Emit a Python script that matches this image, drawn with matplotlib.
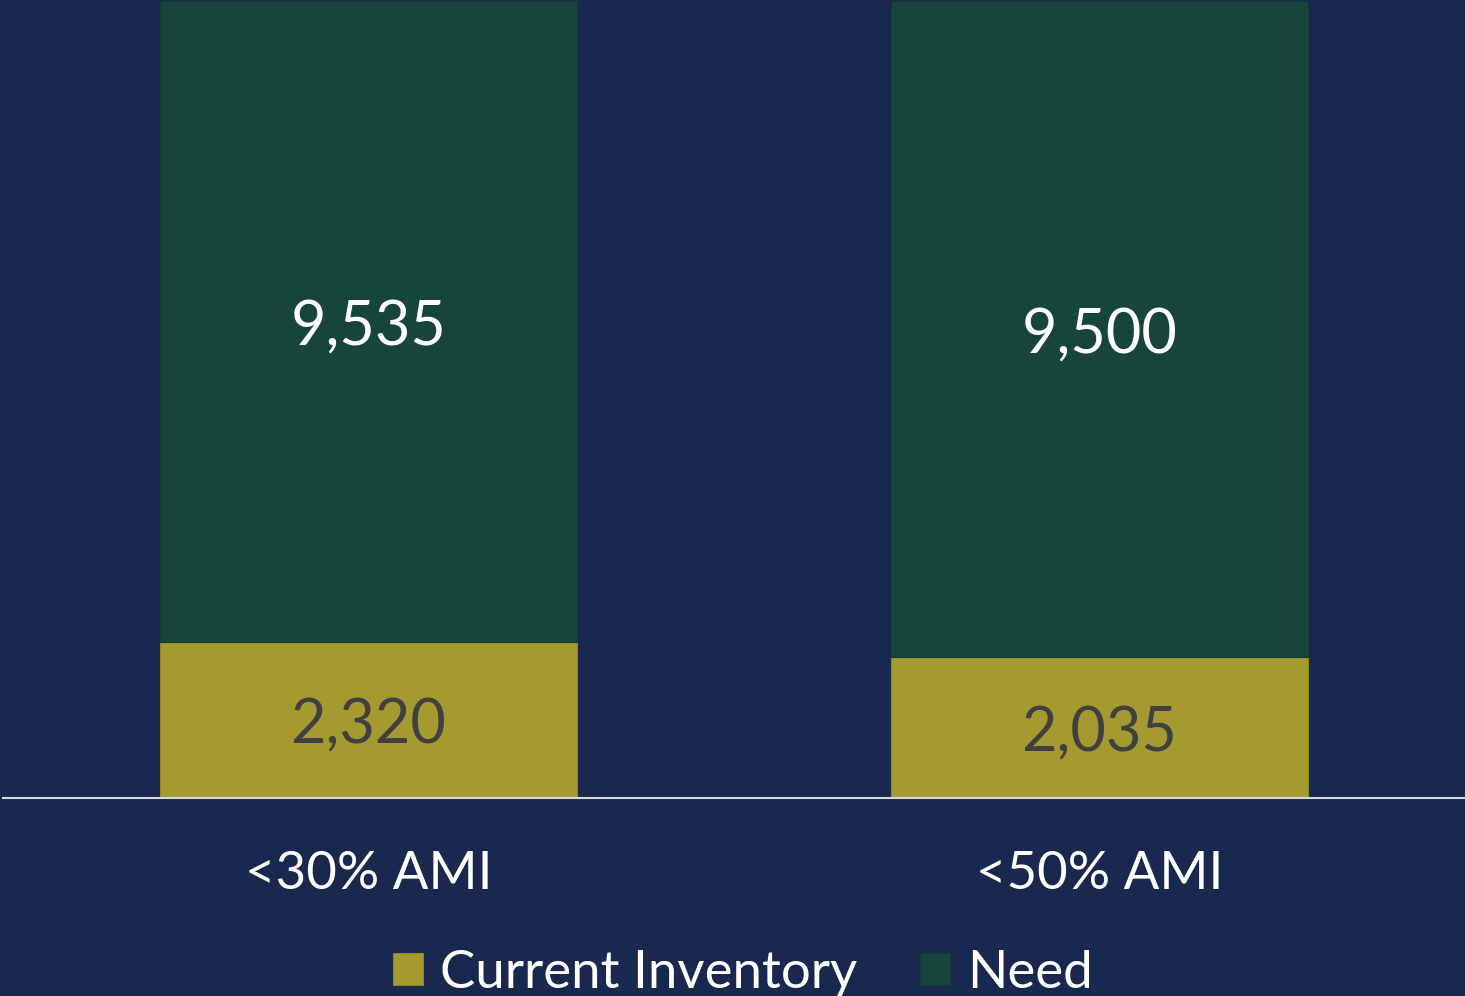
import matplotlib.pyplot as plt
import numpy as np

plt.rcParams['font.family'] = ['Lato', 'DejaVu Sans']

categories = ['<30% AMI', '<50% AMI']
inventory = np.array([2320, 2035])
need = np.array([9535, 9500])

bg = '#18284f'
inv_color = '#a59a2f'
need_color = '#17453c'

# 100% stacked: share of each bar
total = inventory + need
inv_share = inventory / total
need_share = need / total

fig = plt.figure(figsize=(14.65, 9.96), dpi=100, facecolor=bg)
ax = fig.add_axes([3 / 1465, 1 - 798 / 996, 1 - 3 / 1465, 797 / 996])
ax.set_facecolor(bg)

x = np.arange(len(categories))
w = 0.57
b1 = ax.bar(x, inv_share, width=w, color=inv_color, edgecolor='#8f8528', linewidth=0.8,
            label='Current Inventory')
b2 = ax.bar(x, need_share, width=w, bottom=inv_share, color=need_color, edgecolor='#133a33',
            linewidth=0.8, label='Need')

for i in range(len(categories)):
    ax.text(x[i], inv_share[i] / 2, f'{inventory[i]:,}', ha='center', va='center_baseline',
            fontsize=44, color='#404040')
    ax.text(x[i], inv_share[i] + need_share[i] / 2, f'{need[i]:,}', ha='center',
            va='center_baseline', fontsize=44, color='white')

ax.set_xlim(-0.5, 1.5)
ax.set_ylim(0, 1)
ax.set_yticks([])
ax.set_xticks(x)
ax.set_xticklabels(categories, fontsize=38, color='white')
ax.tick_params(axis='x', length=0, pad=38)
for s in ['top', 'left', 'right']:
    ax.spines[s].set_visible(False)
ax.spines['bottom'].set_color('#d9d9d9')
ax.spines['bottom'].set_linewidth(1.5)

fig.legend(handles=[b1, b2], loc='center', bbox_to_anchor=(0.507, 1 - 973 / 996), ncol=2,
           frameon=False, fontsize=38, labelcolor='white', handlelength=0.57, handleheight=0.57,
           handletextpad=0.32, columnspacing=1.2)

fig.savefig('out.png', dpi=100, facecolor=bg)
